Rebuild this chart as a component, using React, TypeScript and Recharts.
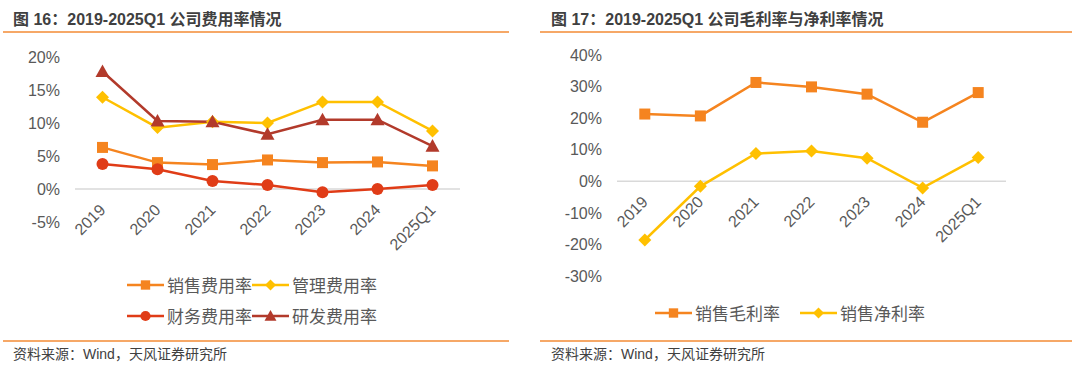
import React from "react";
import { LineChart, Line, XAxis, YAxis, ReferenceLine } from "recharts";

const years = ["2019", "2020", "2021", "2022", "2023", "2024", "2025Q1"];

// 图16 费用率 (%)
const sellingExp = [6.3, 4.0, 3.7, 4.4, 4.0, 4.1, 3.5];
const adminExp = [13.9, 9.3, 10.2, 10.0, 13.2, 13.2, 8.8];
const financeExp = [3.8, 3.0, 1.2, 0.6, -0.5, 0.0, 0.6];
const rdExp = [17.8, 10.3, 10.2, 8.3, 10.5, 10.5, 6.5];
const leftTicks = [-5, 0, 5, 10, 15, 20];

// 图17 毛利率 / 净利率 (%)
const grossMargin = [21.3, 20.7, 31.3, 29.9, 27.6, 18.7, 28.1];
const netMargin = [-18.6, -1.6, 8.8, 9.6, 7.3, -2.1, 7.5];
const rightTicks = [-30, -20, -10, 0, 10, 20, 30, 40];

const leftData = years.map((y, i) => ({
  year: y,
  selling: sellingExp[i],
  admin: adminExp[i],
  finance: financeExp[i],
  rd: rdExp[i],
}));

const rightData = years.map((y, i) => ({
  year: y,
  gross: grossMargin[i],
  net: netMargin[i],
}));

const ORANGE = "#F5841F";
const YELLOW = "#FFC000";
const RED = "#E03C17";
const DARKRED = "#B23A2B";
const GRID = "#D9D9D9";
const TEXT = "#595959";
const FONT = '"Liberation Sans", Arial, "Noto Sans CJK SC", sans-serif';

type Shape = "square" | "diamond" | "circle" | "triangle";

function marker(shape: Shape, cx: number, cy: number, color: string, s = 1) {
  if (shape === "square")
    return <rect x={cx - 5.5 * s} y={cy - 5.5 * s} width={11 * s} height={11 * s} fill={color} />;
  if (shape === "circle") return <circle cx={cx} cy={cy} r={6 * s} fill={color} />;
  if (shape === "diamond") {
    const r = 6.5 * s;
    return <polygon points={`${cx},${cy - r} ${cx + r},${cy} ${cx},${cy + r} ${cx - r},${cy}`} fill={color} />;
  }
  const r = 7 * s;
  return <polygon points={`${cx},${cy - r} ${cx + r},${cy + r * 0.8} ${cx - r},${cy + r * 0.8}`} fill={color} />;
}

const makeDot = (shape: Shape, color: string) => (props: any) => {
  const { cx, cy, index } = props;
  if (cx == null || cy == null) return <g key={index} />;
  return <g key={index}>{marker(shape, cx, cy, color)}</g>;
};

const XTick = (props: any) => {
  const { x, y, payload, shift } = props;
  const ty = y + shift;
  return (
    <text
      x={x}
      y={ty}
      dy="0.35em"
      textAnchor="end"
      transform={`rotate(-45 ${x} ${ty})`}
      fill={TEXT}
      fontSize={16}
      fontFamily={FONT}
    >
      {payload.value}
    </text>
  );
};

function LegendItem({ label, color, shape }: { label: string; color: string; shape: Shape }) {
  return (
    <div style={{ display: "flex", alignItems: "center" }}>
      <svg width={37} height={14}>
        <line x1={0} y1={7} x2={37} y2={7} stroke={color} strokeWidth={2.5} />
        {marker(shape, 18.5, 7, color, 0.85)}
      </svg>
      <span style={{ marginLeft: 3, fontSize: 17, color: TEXT, fontFamily: FONT }}>{label}</span>
    </div>
  );
}

const pct = (v: number) => `${v}%`;

export default function App() {
  return (
    <div style={{ position: "absolute", left: 0, top: 0, width: 1080, height: 368, background: "#fff", fontFamily: FONT }}>
      {/* titles */}
      <div style={{ position: "absolute", left: 13, top: 6, fontSize: 16, fontWeight: "bold", color: "#404040" }}>
        图 16：2019-2025Q1 公司费用率情况
      </div>
      <div style={{ position: "absolute", left: 551, top: 6, fontSize: 16, fontWeight: "bold", color: "#404040" }}>
        图 17：2019-2025Q1 公司毛利率与净利率情况
      </div>
      <div style={{ position: "absolute", left: 3, top: 31, width: 506, height: 1.5, background: "#F6A867" }} />
      <div style={{ position: "absolute", left: 540, top: 31, width: 532, height: 1.5, background: "#F6A867" }} />
      <div style={{ position: "absolute", left: 3, top: 340, width: 506, height: 1.5, background: "#F6A867" }} />
      <div style={{ position: "absolute", left: 540, top: 340, width: 532, height: 1.5, background: "#F6A867" }} />
      <div style={{ position: "absolute", left: 13, top: 343, fontSize: 14, color: "#404040" }}>资料来源：Wind，天风证券研究所</div>
      <div style={{ position: "absolute", left: 551, top: 343, fontSize: 14, color: "#404040" }}>资料来源：Wind，天风证券研究所</div>

      {/* left chart */}
      <div style={{ position: "absolute", left: 0, top: 0 }}>
        <LineChart width={510} height={340} data={leftData} margin={{ top: 57, right: 50, bottom: 88, left: 0 }}>
          <XAxis
            dataKey="year"
            axisLine={false}
            tickLine={false}
            interval={0}
            padding={{ left: 27.5, right: 27.5 }}
            tick={<XTick shift={-23} />}
          />
          <YAxis
            width={75}
            domain={[-5, 20]}
            ticks={leftTicks}
            tickFormatter={pct}
            axisLine={false}
            tickLine={false}
            tickSize={6}
            tickMargin={9}
            tick={{ fill: TEXT, fontSize: 16, fontFamily: FONT }}
          />
          <ReferenceLine y={0} stroke={GRID} strokeWidth={1.5} />
          <Line dataKey="selling" stroke={ORANGE} strokeWidth={2.5} dot={makeDot("square", ORANGE)} isAnimationActive={false} />
          <Line dataKey="admin" stroke={YELLOW} strokeWidth={2.5} dot={makeDot("diamond", YELLOW)} isAnimationActive={false} />
          <Line dataKey="finance" stroke={RED} strokeWidth={2.5} dot={makeDot("circle", RED)} isAnimationActive={false} />
          <Line dataKey="rd" stroke={DARKRED} strokeWidth={2.5} dot={makeDot("triangle", DARKRED)} isAnimationActive={false} />
        </LineChart>
      </div>
      <div style={{ position: "absolute", left: 127, top: 272, width: 260, display: "flex", flexWrap: "wrap", rowGap: 6 }}>
        <LegendItem label="销售费用率" color={ORANGE} shape="square" />
        <LegendItem label="管理费用率" color={YELLOW} shape="diamond" />
        <LegendItem label="财务费用率" color={RED} shape="circle" />
        <LegendItem label="研发费用率" color={DARKRED} shape="triangle" />
      </div>

      {/* right chart */}
      <div style={{ position: "absolute", left: 540, top: 0 }}>
        <LineChart width={530} height={340} data={rightData} margin={{ top: 55, right: 64, bottom: 34, left: 0 }}>
          <XAxis
            dataKey="year"
            axisLine={false}
            tickLine={false}
            interval={0}
            padding={{ left: 27.8, right: 27.8 }}
            tick={<XTick shift={-85} />}
          />
          <YAxis
            width={77}
            domain={[-30, 40]}
            ticks={rightTicks}
            tickFormatter={pct}
            axisLine={false}
            tickLine={false}
            tickSize={6}
            tickMargin={9}
            tick={{ fill: TEXT, fontSize: 16, fontFamily: FONT }}
          />
          <ReferenceLine y={0} stroke={GRID} strokeWidth={1.5} />
          <Line dataKey="gross" stroke={ORANGE} strokeWidth={2.5} dot={makeDot("square", ORANGE)} isAnimationActive={false} />
          <Line dataKey="net" stroke={YELLOW} strokeWidth={2.5} dot={makeDot("diamond", YELLOW)} isAnimationActive={false} />
        </LineChart>
      </div>
      <div style={{ position: "absolute", left: 655, top: 300, display: "flex", columnGap: 20 }}>
        <LegendItem label="销售毛利率" color={ORANGE} shape="square" />
        <LegendItem label="销售净利率" color={YELLOW} shape="diamond" />
      </div>
    </div>
  );
}
